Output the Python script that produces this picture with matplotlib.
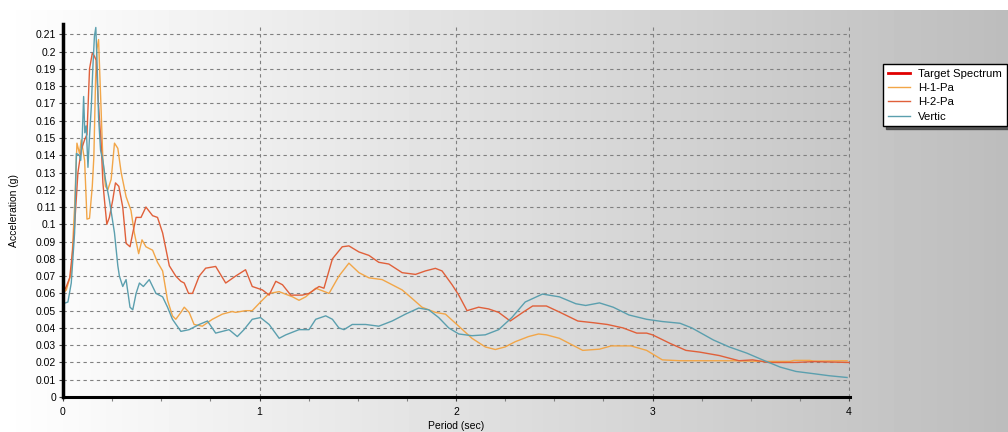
import numpy as np
import matplotlib
matplotlib.use("Agg")
import matplotlib.pyplot as plt
from matplotlib.ticker import MultipleLocator, FuncFormatter

plt.rcParams['font.family'] = ['Liberation Sans', 'DejaVu Sans']

# H-1-Pa
t_h1 = [0.000, 0.017, 0.042, 0.059, 0.071, 0.084, 0.093, 0.110, 0.122, 0.135, 0.149, 0.157,
        0.166, 0.172, 0.181, 0.186, 0.194, 0.203, 0.216, 0.228, 0.245, 0.262, 0.279, 0.296,
        0.321, 0.346, 0.363, 0.385, 0.402, 0.422, 0.456, 0.481, 0.507, 0.532, 0.557, 0.574,
        0.600, 0.617, 0.642, 0.667, 0.709, 0.760, 0.811, 0.861, 0.878, 0.929, 0.963, 1.005,
        1.049, 1.100, 1.168, 1.201, 1.235, 1.286, 1.354, 1.404, 1.455, 1.506, 1.557, 1.624,
        1.675, 1.726, 1.777, 1.827, 1.895, 1.946, 2.014, 2.081, 2.149, 2.200, 2.250, 2.301,
        2.369, 2.420, 2.46, 2.526, 2.645, 2.73, 2.79, 2.89, 2.97, 3.05, 3.14, 3.41, 3.56,
        3.70, 3.72, 3.80, 3.82, 3.99]
a_h1 = [0.060, 0.062, 0.072, 0.110, 0.147, 0.141, 0.149, 0.137, 0.103, 0.1035, 0.122, 0.139,
        0.185, 0.201, 0.207, 0.191, 0.166, 0.137, 0.122, 0.120, 0.126, 0.147, 0.144, 0.130,
        0.116, 0.108, 0.095, 0.083, 0.091, 0.087, 0.085, 0.078, 0.073, 0.056, 0.047, 0.045,
        0.049, 0.052, 0.049, 0.042, 0.041, 0.045, 0.048, 0.0495, 0.049, 0.050, 0.050, 0.055,
        0.060, 0.061, 0.058, 0.056, 0.058, 0.063, 0.060, 0.070, 0.0775, 0.072, 0.069, 0.068,
        0.065, 0.062, 0.057, 0.052, 0.049, 0.048, 0.041, 0.034, 0.029, 0.0275, 0.029, 0.032,
        0.035, 0.0365, 0.036, 0.034, 0.027, 0.0277, 0.0296, 0.0296, 0.027, 0.0215, 0.021, 0.021, 0.0206,
        0.0206, 0.0212, 0.0212, 0.0208, 0.021]

# H-2-Pa
t_h2 = [0.000, 0.017, 0.034, 0.051, 0.059, 0.076, 0.093, 0.110, 0.122, 0.135, 0.149, 0.157,
        0.169, 0.177, 0.186, 0.194, 0.203, 0.211, 0.223, 0.236, 0.253, 0.267, 0.284, 0.304,
        0.321, 0.341, 0.355, 0.372, 0.397, 0.422, 0.456, 0.481, 0.507, 0.541, 0.574, 0.600,
        0.617, 0.639, 0.659, 0.693, 0.726, 0.777, 0.828, 0.878, 0.929, 0.963, 1.015, 1.049,
        1.083, 1.117, 1.159, 1.218, 1.252, 1.303, 1.328, 1.371, 1.421, 1.455, 1.506, 1.557,
        1.607, 1.658, 1.726, 1.794, 1.844, 1.895, 1.929, 1.980, 2.014, 2.056, 2.115, 2.166,
        2.217, 2.276, 2.34, 2.39, 2.46, 2.53, 2.62, 2.70, 2.77, 2.85, 2.92, 2.97, 3.00, 3.09,
        3.17, 3.24, 3.34, 3.44, 3.51, 3.59, 3.73, 3.82, 4.00]
a_h2 = [0.060, 0.064, 0.069, 0.087, 0.099, 0.130, 0.143, 0.149, 0.152, 0.190, 0.199, 0.198,
        0.195, 0.176, 0.160, 0.147, 0.124, 0.114, 0.100, 0.104, 0.114, 0.124, 0.122, 0.110,
        0.089, 0.087, 0.095, 0.104, 0.104, 0.110, 0.105, 0.104, 0.095, 0.076, 0.070, 0.067,
        0.066, 0.060, 0.060, 0.070, 0.0746, 0.0756, 0.066, 0.070, 0.0737, 0.064, 0.062, 0.059,
        0.067, 0.065, 0.059, 0.059, 0.060, 0.064, 0.063, 0.080, 0.087, 0.0875, 0.084, 0.082,
        0.078, 0.077, 0.072, 0.071, 0.073, 0.0745, 0.073, 0.065, 0.059, 0.050, 0.052, 0.051,
        0.049, 0.044, 0.049, 0.0527, 0.0527, 0.049, 0.044, 0.043, 0.042, 0.040, 0.037, 0.037, 0.036, 0.031,
        0.027, 0.026, 0.024, 0.021, 0.0215, 0.020, 0.020, 0.0205, 0.020]

# Vertic
t_v = [0.000, 0.025, 0.042, 0.059, 0.068, 0.084, 0.090, 0.098, 0.105, 0.111, 0.118, 0.127,
       0.135, 0.144, 0.152, 0.160, 0.167, 0.174, 0.181, 0.191, 0.203, 0.216, 0.236, 0.262,
       0.279, 0.287, 0.304, 0.321, 0.341, 0.355, 0.372, 0.389, 0.409, 0.439, 0.473, 0.507,
       0.532, 0.557, 0.600, 0.642, 0.693, 0.735, 0.777, 0.845, 0.887, 0.921, 0.963, 1.005,
       1.049, 1.100, 1.134, 1.201, 1.252, 1.286, 1.337, 1.371, 1.404, 1.430, 1.472, 1.540,
       1.607, 1.675, 1.743, 1.810, 1.861, 1.912, 1.963, 2.014, 2.081, 2.149, 2.217, 2.284,
       2.352, 2.44, 2.526, 2.61, 2.66, 2.73, 2.80, 2.88, 2.97, 3.05, 3.14, 3.20, 3.31, 3.39,
       3.48, 3.56, 3.65, 3.73, 3.82, 3.90, 3.99]
a_v = [0.054, 0.055, 0.066, 0.095, 0.141, 0.140, 0.137, 0.151, 0.174, 0.153, 0.157, 0.133,
       0.151, 0.168, 0.191, 0.209, 0.214, 0.191, 0.162, 0.143, 0.137, 0.126, 0.114, 0.095,
       0.076, 0.070, 0.064, 0.068, 0.052, 0.0505, 0.060, 0.066, 0.064, 0.068, 0.060, 0.058,
       0.052, 0.045, 0.038, 0.039, 0.042, 0.044, 0.037, 0.039, 0.035, 0.039, 0.045, 0.046,
       0.042, 0.034, 0.036, 0.039, 0.039, 0.045, 0.047, 0.045, 0.040, 0.039, 0.042, 0.042,
       0.041, 0.044, 0.048, 0.0515, 0.0505, 0.046, 0.040, 0.0365, 0.0355, 0.036, 0.039, 0.046,
       0.055, 0.0596, 0.058, 0.054, 0.053, 0.0545, 0.052, 0.0475, 0.045, 0.0437, 0.0427, 0.040, 0.033, 0.029,
       0.0254, 0.0215, 0.0173, 0.0148, 0.0135, 0.0123, 0.0113]

fig = plt.figure(figsize=(10.08, 4.32), dpi=100)
fig.patch.set_facecolor('white')

# gradient backdrop below the thin white top strip
bg = fig.add_axes([0, 0, 1, 1 - 10 / 432])
bg.set_zorder(0)
grad = np.linspace(1.0, 0.74, 256).reshape(1, -1)
bg.imshow(grad, aspect='auto', cmap='gray', vmin=0, vmax=1, extent=[0, 1, 0, 1])
bg.axis('off')

ax = fig.add_axes([63 / 1008, 35 / 432, 787 / 1008, 373 / 432])
ax.set_zorder(1)
ax.patch.set_alpha(0)

ax.plot([], [], color='#e00000', lw=2, label='Target Spectrum')
ax.plot(t_h1, a_h1, color='#f2a648', lw=1, label='H-1-Pa')
ax.plot(t_h2, a_h2, color='#e0603a', lw=1, label='H-2-Pa')
ax.plot(t_v, a_v, color='#5b9fae', lw=1, label='Vertic')

ax.set_xlim(0, 4.005)
ax.set_ylim(0, 0.216)
ax.xaxis.set_major_locator(MultipleLocator(1))
ax.xaxis.set_minor_locator(MultipleLocator(0.25))
ax.yaxis.set_major_locator(MultipleLocator(0.01))
ax.yaxis.set_major_formatter(FuncFormatter(lambda v, p: '%g' % round(v, 2)))
ax.grid(True, which='major', color='#808080', ls=(0, (3, 3)), lw=0.8)

for s in ['top', 'right']:
    ax.spines[s].set_visible(False)
ax.spines['left'].set_linewidth(2.5)
ax.spines['bottom'].set_linewidth(2.2)
ax.tick_params(axis='both', which='major', labelsize=7.5, length=3, width=0.8, color='#404040')
ax.tick_params(axis='x', which='minor', length=3, width=0.8, color='#808080')
ax.tick_params(axis='y', pad=2)
ax.tick_params(axis='x', pad=4)

ax.set_xlabel('Period (sec)', fontsize=7.5, labelpad=3)
ax.set_ylabel('Acceleration (g)', fontsize=7.5, labelpad=12)

leg = fig.legend(loc='upper left', bbox_to_anchor=(883 / 1008, 1 - 64 / 432), fontsize=8.2,
                 frameon=True, fancybox=False, shadow={'color': '#404040', 'alpha': 0.8},
                 handlelength=2.0, borderpad=0.4, labelspacing=0.38, handletextpad=0.7,
                 borderaxespad=0)
leg.get_frame().set_edgecolor('black')
leg.get_frame().set_linewidth(1)
leg.get_frame().set_facecolor('white')
leg.get_frame().set_alpha(1)

fig.savefig('out.png', dpi=100)
